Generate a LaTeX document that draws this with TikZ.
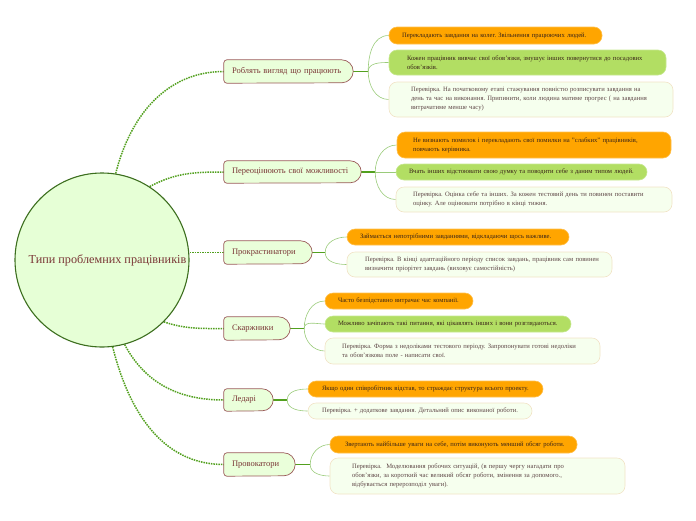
\documentclass[tikz,border=0pt]{standalone}
\usepackage{fontspec}
\setmainfont{Liberation Serif}
\usetikzlibrary{backgrounds}
\frenchspacing
\definecolor{rootfill}{HTML}{E6FFD6}
\definecolor{rootline}{HTML}{3C6E1E}
\definecolor{brfill}{HTML}{EAFFDA}
\definecolor{brline}{HTML}{9A5A58}
\definecolor{brtext}{HTML}{7A3636}
\definecolor{dotgreen}{HTML}{52A01E}
\definecolor{thingreen}{HTML}{9ACB7A}
\definecolor{orangefill}{HTML}{FFA500}
\definecolor{orangeline}{HTML}{FFC04D}
\definecolor{greenfill}{HTML}{B2DE63}
\definecolor{greenline}{HTML}{C6E890}
\definecolor{notefill}{HTML}{F6FFEE}
\definecolor{noteline}{HTML}{F1E3C6}
\definecolor{leaftext}{HTML}{3A2418}
\definecolor{notetext}{HTML}{5E4646}
\tikzset{
  rootnode/.style={circle, draw=rootline, line width=1.1pt, fill=rootfill, minimum size=174pt, inner sep=0pt, text=brtext, font=\fontsize{12.2}{14}\selectfont},
  branchnode/.style={rectangle, inner xsep=8pt, inner ysep=0pt, align=left, text=brtext, font=\fontsize{8.5}{10}\selectfont},
  branchshape/.style={draw=brline, fill=brfill, line width=0.7pt},
  leafbase/.style={rectangle, rounded corners=8pt, inner ysep=0pt, align=left, line width=0.6pt, font=\fontsize{6.6}{9}\selectfont},
  orangeleaf/.style={leafbase, fill=orangefill, draw=orangeline, text=leaftext},
  greenleaf/.style={leafbase, fill=greenfill, draw=greenline, text=leaftext},
  noteleaf/.style={leafbase, fill=notefill, draw=noteline, text=notetext},
  dotlink/.style={draw=dotgreen, line width=1.5pt, dash pattern=on 1.5pt off 1pt},
  stublink/.style={draw=dotgreen, line width=1.2pt},
  thinlink/.style={draw=thingreen, line width=0.6pt},
}
\newcommand\leafnode[8]{\node[#2, minimum width=#5pt, minimum height=#6pt, inner xsep=#7pt, text width=#8pt] (#1) at (#3,-#4)}
\newcommand\brnode[6]{\node[branchnode, minimum width=#4pt, minimum height=#5pt, text width=#6pt] (#1) at (#2,-#3)}
\newcommand\brshape[2]{\filldraw[branchshape] (#1.west) -- ([yshift=-3pt]#1.north west) arc[start angle=180, end angle=90, radius=3pt] -- ([xshift=-#2pt]#1.north east) arc[start angle=90, end angle=-90, radius=#2pt] -- ([xshift=3pt]#1.south west) arc[start angle=270, end angle=180, radius=3pt] -- cycle;}
\newcommand\ml[1]{\mbox{#1}}
\begin{document}
\begin{tikzpicture}[x=1pt,y=1pt]
\useasboundingbox (0,0) rectangle (696,-520);
\node[rootnode] (root) at (102,-260) {\hspace*{11pt}Типи проблемних працівників};

\brnode{b1}{288.5}{71.5}{129}{23}{113} {Роблять вигляд що працюють};
\brnode{b2}{292.5}{172}{137}{22}{121} {Переоцінюють свої можливості};
\brnode{b3}{268}{252.5}{88}{23}{72} {Прокрастинатори};
\brnode{b4}{257}{328.5}{66}{23}{50} {Скаржники};
\brnode{b5}{248.5}{400}{49}{22}{33} {Ледарі};
\brnode{b6}{259.5}{464.5}{71}{23}{55} {Провокатори};

\leafnode{l11}{orangeleaf}{495.5}{35.5}{213}{17}{13}{187} {\ml{Перекладають завдання на колег. Звільнення працюючих людей.}};
\leafnode{l12}{greenleaf}{527.5}{62.5}{277}{25}{18}{241} {\ml{Кожен працівник вивчає свої обов’язки, змушує інших повернутися до посадових}\\\ml{обов’язків.}};
\leafnode{l13}{noteleaf}{531}{99.5}{284}{35}{22}{240} {\ml{Перевірка. На початковому етапі стажування повністю розписувати завдання на}\\\ml{день та час на виконання. Припинити, коли людина матиме прогрес ( на завдання}\\\ml{витрачатиме менше часу)}};

\leafnode{l21}{orangeleaf}{534}{145}{274}{26}{16}{242} {\ml{Не визнають помилок і перекладають свої помилки на "слабких" працівників,}\\\ml{повчають керівника.}};
\leafnode{l22}{greenleaf}{521.5}{172}{251}{16}{13}{225} {\ml{Вчать інших відстоювати свою думку та поводити себе з даним типом людей.}};
\leafnode{l23}{noteleaf}{534}{199.5}{276}{25}{17}{242} {\ml{Перевірка. Оцінка себе та інших. За кожен тестовий день ти повинен поставити}\\\ml{оцінку. Але оцінювати потрібно в кінці тижня.}};

\leafnode{l31}{orangeleaf}{458}{237}{222}{16}{13}{196} {\ml{Займається непотрібними завданнями, відкладаючи щось важливе.}};
\leafnode{l32}{noteleaf}{479.5}{264.5}{265}{25}{18}{229} {\ml{Перевірка. В кінці адаптаційного періоду список завдань, працівник сам повинен}\\\ml{визначити пріорітет завдань (виховує самостійність)}};

\leafnode{l41}{orangeleaf}{399}{301}{148}{16}{13}{122} {\ml{Часто безпідставно витрачає час компанії.}};
\leafnode{l42}{greenleaf}{448}{324}{246}{16}{13}{220} {\ml{Можливо зачіпають такі питання, які цікавлять інших і вони розглядаються.}};
\leafnode{l43}{noteleaf}{462.5}{351}{275}{26}{17}{241} {\ml{Перевірка. Форма з недоліками тестового періоду. Запропонувати готові недоліки}\\\ml{та обов’язкова поле - написати свої.}};

\leafnode{l51}{orangeleaf}{425.5}{389}{235}{16}{14}{207} {\ml{Якщо один співробітник відстав, то страждає структура всього проекту.}};
\leafnode{l52}{noteleaf}{420}{411}{224}{16}{14}{196} {\ml{Перевірка. + додаткове завдання. Детальний опис виконаної роботи.}};

\leafnode{l61}{orangeleaf}{453.5}{444.5}{247}{17}{15}{217} {\ml{Звертають найбільше уваги на себе, потім виконують менший обсяг роботи.}};
\leafnode{l62}{noteleaf}{477.5}{476}{295}{36}{22}{251} {\ml{Перевірка.\ \ Моделювання робочих ситуацій, (в першу чергу нагадати про}\\\ml{обов’язки, за короткий час великий обсяг роботи, змінення за допомого.,}\\\ml{відбувається перерозподіл уваги).}};

\coordinate (j1) at ([xshift=15pt]b1.east);
\coordinate (j2) at ([xshift=14pt]b2.east);
\coordinate (j3) at ([xshift=13pt]b3.east);
\coordinate (j4) at ([xshift=14pt]b4.east);
\coordinate (j5) at ([xshift=14pt]b5.east);
\coordinate (j6) at ([xshift=15pt]b6.east);

\begin{scope}[on background layer]
  \draw[dotlink] (root.81) to[out=76, in=180] (b1.west);
  \draw[dotlink] (root.57) to[out=28, in=180] (b2.west);
  \draw[dotlink] (root.east |- b3.west) -- (b3.west);
  \draw[dotlink] (root.-45) to[out=-18, in=180] (b4.west);
  \draw[dotlink] (root.-75) to[out=-62, in=180] (b5.west);
  \draw[dotlink] (root.-83) to[out=-76, in=180] (b6.west);

  \foreach \b in {1,...,6} {\draw[stublink] (b\b.east) -- (j\b);}

  \draw[thinlink] (j1) to[out=90, in=180] (l11.west);
  \draw[thinlink] (j1) to[out=90, in=180] (l12.west);
  \draw[thinlink] (j1) to[out=-90, in=180] (l13.west);
  \draw[thinlink] (j2) to[out=90, in=180] (l21.west);
  \draw[thinlink] (j2) -- (l22.west);
  \draw[thinlink] (j2) to[out=-90, in=180] (l23.west);
  \draw[thinlink] (j3) to[out=90, in=180] (l31.west);
  \draw[thinlink] (j3) to[out=-90, in=180] (l32.west);
  \draw[thinlink] (j4) to[out=90, in=180] (l41.west);
  \draw[thinlink] (j4) to[out=90, in=180] (l42.west);
  \draw[thinlink] (j4) to[out=-90, in=180] (l43.west);
  \draw[thinlink] (j5) to[out=90, in=180] (l51.west);
  \draw[thinlink] (j5) to[out=-90, in=180] (l52.west);
  \draw[thinlink] (j6) to[out=90, in=180] (l61.west);
  \draw[thinlink] (j6) to[out=-90, in=180] (l62.west);

  \brshape{b1}{11.5}
  \brshape{b2}{11}
  \brshape{b3}{11.5}
  \brshape{b4}{11.5}
  \brshape{b5}{11}
  \brshape{b6}{11.5}
\end{scope}
\end{tikzpicture}
\end{document}
